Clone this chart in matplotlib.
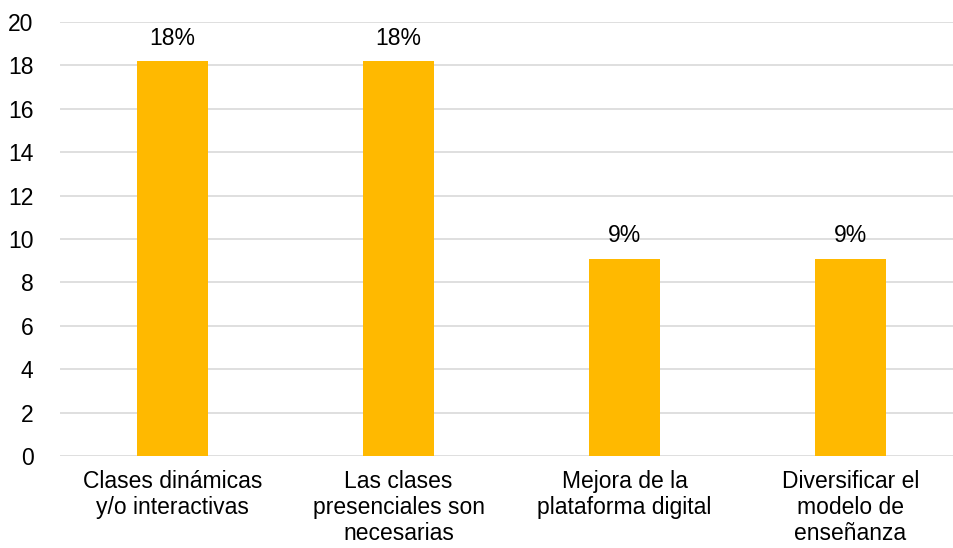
import matplotlib
matplotlib.use('Agg')
import matplotlib.pyplot as plt

# Chart data
categories = ['Clases dinámicas\ny/o interactivas',
              'Las clases\npresenciales son\nnecesarias',
              'Mejora de la\nplataforma digital',
              'Diversificar el\nmodelo de\nenseñanza']
values = [18.18, 18.18, 9.09, 9.09]
labels = ['18%', '18%', '9%', '9%']
yticks = [0, 2, 4, 6, 8, 10, 12, 14, 16, 18, 20]

plt.rcParams['font.family'] = ['Liberation Sans', 'DejaVu Sans']
FS = 16.5

fig = plt.figure(figsize=(9.54, 5.48), dpi=100)
ax = fig.add_axes([60 / 954, 1 - 456 / 548, 1 - 60 / 954, (456 - 22) / 548])

x = list(range(len(categories)))
bars = ax.bar(x, values, width=0.314, color='#FFB900', zorder=3)

for b, lab in zip(bars, labels):
    ax.text(b.get_x() + b.get_width() / 2, b.get_height() + 0.55, lab,
            ha='center', va='bottom', fontsize=FS, color='#000000')

ax.set_ylim(0, 20)
ax.set_xlim(-0.498, 3.458)
ax.set_yticks(yticks)
ax.set_xticks(x)
ax.set_xticklabels(categories, fontsize=FS, linespacing=1.18)
ax.tick_params(axis='y', labelsize=FS, length=0, pad=19)
ax.tick_params(axis='x', length=0, pad=10)
ax.grid(axis='y', color='#D9D9D9', linewidth=1.2, zorder=0)
for s in ax.spines.values():
    s.set_visible(False)

fig.savefig('out.png', dpi=100, facecolor='white')
